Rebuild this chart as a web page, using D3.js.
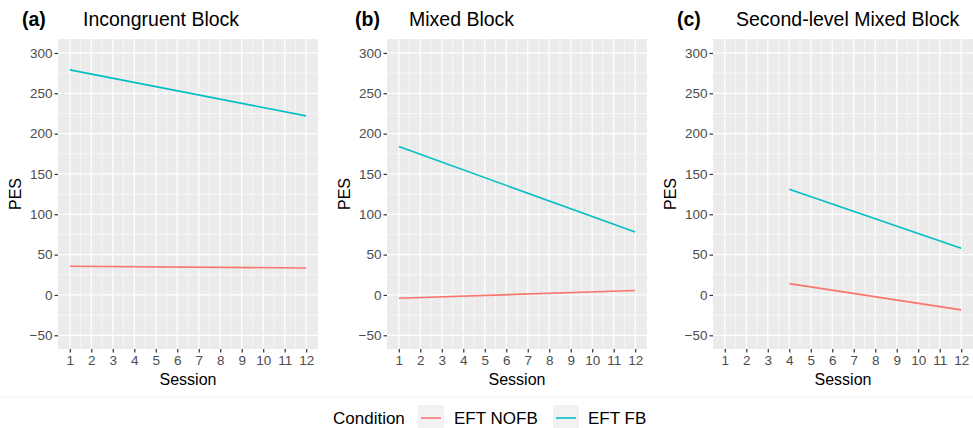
<!DOCTYPE html>
<html lang="en">
<head>
    <meta charset="UTF-8">
    <script src="https://d3js.org/d3.v7.min.js"></script>
    <title>PES by session</title>
    <style>
        body { margin: 0; background: #fff; }
        text { font-family: 'Liberation Sans', Arial, sans-serif; }
    </style>
</head>
<body>
<script>
    const width = 973, height = 428;

    // data (fitted lines, start and end sessions)
    const panels = ["(a)", "(b)", "(c)"];
    const panelTitles = ["Incongruent Block", "Mixed Block", "Second-level Mixed Block"];
    const conditions = ["EFT NOFB", "EFT FB"];
    const sessionsA = [1, 12];
    const sessionsB = [1, 12];
    const sessionsC = [4, 12];
    const nofbA = [35.5, 33.5];
    const fbA = [279, 222];
    const nofbB = [-4, 5.5];
    const fbB = [184, 78];
    const nofbC = [14, -18.5];
    const fbC = [131, 58];
    const xTicks = d3.range(1, 13);
    const yTicks = [-50, 0, 50, 100, 150, 200, 250, 300];

    const colors = {"EFT NOFB": "#F8766D", "EFT FB": "#00BFC4"};

    const panelData = [
        {sessions: sessionsA, series: [nofbA, fbA]},
        {sessions: sessionsB, series: [nofbB, fbB]},
        {sessions: sessionsC, series: [nofbC, fbC]}
    ];
    const plotLefts = [58, 387, 713];
    const plotW = 260, plotTop = 39, plotBottom = 349;

    const svg = d3.select("body").append("svg")
        .attr("width", width).attr("height", height);

    const y = d3.scaleLinear().domain([-67, 317.3]).range([plotBottom, plotTop]);

    panelData.forEach((p, i) => {
        const left = plotLefts[i];
        const x = d3.scaleLinear().domain([0.45, 12.55]).range([left, left + plotW]);
        const g = svg.append("g");

        g.append("rect").attr("x", left).attr("y", plotTop)
            .attr("width", plotW).attr("height", plotBottom - plotTop).attr("fill", "#EBEBEB");

        // minor grid
        const xMinor = d3.range(1.5, 12, 1);
        const yMinor = d3.range(-25, 300, 50);
        g.selectAll(".xm").data(xMinor).join("line")
            .attr("x1", d => x(d)).attr("x2", d => x(d))
            .attr("y1", plotTop).attr("y2", plotBottom)
            .attr("stroke", "#fff").attr("stroke-width", 0.6);
        g.selectAll(".ym").data(yMinor).join("line")
            .attr("y1", d => y(d)).attr("y2", d => y(d))
            .attr("x1", left).attr("x2", left + plotW)
            .attr("stroke", "#fff").attr("stroke-width", 0.6);
        // major grid
        g.selectAll(".xg").data(xTicks).join("line")
            .attr("x1", d => x(d)).attr("x2", d => x(d))
            .attr("y1", plotTop).attr("y2", plotBottom)
            .attr("stroke", "#fff").attr("stroke-width", 1.2);
        g.selectAll(".yg").data(yTicks).join("line")
            .attr("y1", d => y(d)).attr("y2", d => y(d))
            .attr("x1", left).attr("x2", left + plotW)
            .attr("stroke", "#fff").attr("stroke-width", 1.2);

        // axes
        const xAxis = g.append("g").attr("transform", `translate(0,${plotBottom})`)
            .call(d3.axisBottom(x).tickValues(xTicks).tickSize(3.5).tickPadding(3));
        const yAxis = g.append("g").attr("transform", `translate(${left},0)`)
            .call(d3.axisLeft(y).tickValues(yTicks).tickSize(3.5).tickPadding(2));
        [xAxis, yAxis].forEach(a => {
            a.select(".domain").remove();
            a.selectAll(".tick line").attr("stroke", "#333").attr("stroke-width", 1.2);
            a.selectAll(".tick text").attr("fill", "#4D4D4D")
                .style("font-size", "13.5px").style("font-family", "'Liberation Sans', Arial, sans-serif");
        });

        // lines
        const line = d3.line().x(d => x(d[0])).y(d => y(d[1]));
        p.series.forEach((vals, k) => {
            g.append("path")
                .datum(p.sessions.map((s, j) => [s, vals[j]]))
                .attr("d", line)
                .attr("fill", "none")
                .attr("stroke", colors[conditions[k]])
                .attr("stroke-width", 1.6);
        });

        // titles
        g.append("text").attr("x", [22, 355, 677][i]).attr("y", 26)
            .style("font-size", "19.5px").style("font-weight", "bold").attr("fill", "#000")
            .text(panels[i]);
        g.append("text").attr("x", [83, 409, 736][i]).attr("y", 26)
            .style("font-size", "19.5px").attr("fill", "#000")
            .text(panelTitles[i]);

        g.append("text").attr("x", left + plotW / 2).attr("y", 385)
            .attr("text-anchor", "middle").style("font-size", "16px")
            .text("Session");
        g.append("text")
            .attr("transform", `translate(${left - 37},${(plotTop + plotBottom) / 2}) rotate(-90)`)
            .attr("text-anchor", "middle").style("font-size", "16px")
            .text("PES");
    });

    // faint separator above legend
    svg.append("line").attr("x1", 0).attr("x2", width).attr("y1", 397).attr("y2", 397)
        .attr("stroke", "#F3F3F3").attr("stroke-width", 1);

    // legend
    const lg = svg.append("g");
    lg.append("text").attr("x", 333).attr("y", 423.5).style("font-size", "17px").text("Condition");
    const keyX = [418, 553];
    const labX = [454, 588];
    conditions.forEach((c, k) => {
        lg.append("rect").attr("x", keyX[k]).attr("y", 405).attr("width", 26).attr("height", 23)
            .attr("fill", "#F2F2F2");
        lg.append("line").attr("x1", keyX[k] + 3).attr("x2", keyX[k] + 23)
            .attr("y1", 418).attr("y2", 418)
            .attr("stroke", colors[c]).attr("stroke-width", 1.6);
        lg.append("text").attr("x", labX[k]).attr("y", 423.5).style("font-size", "17px").text(c);
    });
</script>
</body>
</html>
